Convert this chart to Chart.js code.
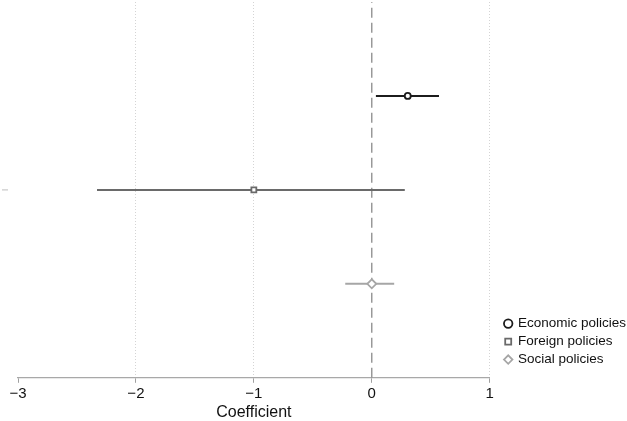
<!DOCTYPE html>
<html>
<head>
<meta charset="utf-8">
<script src="https://cdn.jsdelivr.net/npm/chart.js@4"></script>
<style>
  html, body { margin: 0; padding: 0; background: #fff; }
  #wrap { width: 627px; height: 421px; }
</style>
</head>
<body>
<div id="wrap"><canvas id="coef_chart"></canvas></div>
<script>
// coefficient estimates with confidence intervals
var categories = ["Economic policies", "Foreign policies", "Social policies"];
var estimates = [0.305, -1.0, 0.0];
var lowerCI = [0.035, -2.33, -0.225];
var upperCI = [0.57, 0.28, 0.19];
var tickValues = [-3, -2, -1, 0, 1];
var colors = ["#1c1c1c", "#6a6a6a", "#a6a6a6"];
var markers = ["circle", "rect", "rectRot"];
var markerSizes = [3, 3.5, 4.5];

var fontName = "'Liberation Sans', Arial, sans-serif";

// row of each category on the y scale (top row first)
function rowOf(i) { return categories.length - i; }

var datasets = [];
categories.forEach(function(name, i) {
    datasets.push({
        label: name,
        data: [{x: estimates[i], y: rowOf(i)}],
        showLine: false,
        pointStyle: markers[i],
        pointRadius: markerSizes[i],
        pointBorderWidth: 1.8,
        borderWidth: 1.6,
        borderColor: colors[i],
        pointBorderColor: colors[i],
        backgroundColor: "#ffffff",
        pointBackgroundColor: "#ffffff",
        order: 0
    });
});
categories.forEach(function(name, i) {
    datasets.push({
        label: "ci_" + i,
        data: [{x: lowerCI[i], y: rowOf(i)}, {x: upperCI[i], y: rowOf(i)}],
        showLine: true,
        borderColor: colors[i],
        borderWidth: 2,
        pointRadius: 0,
        order: 1
    });
});
// reference line at zero
datasets.push({
    label: "zero",
    data: [{x: 0, y: 0}, {x: 0, y: categories.length + 1}],
    showLine: true,
    borderColor: "#8a8a8a",
    borderWidth: 1.3,
    borderDash: [10, 5],
    pointRadius: 0,
    order: 2
});

// small grey tick on the left at the middle row
const leftTick = {
    id: "leftTick",
    afterDraw(chart) {
        var ctx = chart.ctx;
        var y = chart.scales.y.getPixelForValue(rowOf(1));
        ctx.save();
        ctx.strokeStyle = "#c8c8c8";
        ctx.lineWidth = 1.2;
        ctx.beginPath();
        ctx.moveTo(2, y);
        ctx.lineTo(8, y);
        ctx.stroke();
        ctx.restore();
    }
};

// move the legend block down-right next to the plot bottom
const legendPlace = {
    id: "legendPlace",
    afterLayout(chart) {
        var lg = chart.legend;
        var w = lg.width;
        lg.left = chart.chartArea.right + 11;
        lg.right = lg.left + w;
        lg.bottom = chart.chartArea.bottom - 7;
    }
};

const config = {
    type: "scatter",
    data: { datasets: datasets },
    options: {
        responsive: true,
        maintainAspectRatio: false,
        animation: false,
        layout: { autoPadding: false, padding: { left: 18, top: 2, right: 2, bottom: 0 } },
        scales: {
            x: {
                type: "linear",
                min: -3,
                max: 1,
                afterBuildTicks: function(scale) {
                    scale.ticks = tickValues.map(function(v) { return {value: v}; });
                },
                grid: {
                    color: function(ctx) {
                        return (ctx.tick && (ctx.tick.value === 0 || ctx.tick.value === -3)) ? "rgba(0,0,0,0)" : "#d4d4d4";
                    },
                    lineWidth: 1,
                    tickLength: 5,
                    tickColor: "#a0a0a0",
                    tickWidth: 1
                },
                border: { display: true, color: "#a8a8a8", width: 1.3, dash: [1, 2] },
                ticks: {
                    color: "#111",
                    font: { family: fontName, size: 15 },
                    padding: 2,
                    maxRotation: 0,
                    callback: function(v) { return String(v).replace("-", "\u2212"); }
                },
                title: {
                    display: true,
                    text: "Coefficient",
                    color: "#111",
                    font: { family: fontName, size: 16 },
                    padding: { top: -2, bottom: -1 }
                }
            },
            y: {
                type: "linear",
                display: false,
                min: 0,
                max: categories.length + 1
            }
        },
        plugins: {
            legend: {
                position: "right",
                align: "end",
                labels: {
                    usePointStyle: true,
                    boxWidth: 6,
                    boxHeight: 6,
                    padding: 4.5,
                    color: "#111",
                    font: { family: fontName, size: 13.5 },
                    filter: function(item) { return item.datasetIndex < categories.length; }
                }
            },
            tooltip: { enabled: false }
        }
    },
    plugins: [leftTick, legendPlace]
};

var chart = new Chart(document.getElementById("coef_chart"), config);
</script>
</body>
</html>
